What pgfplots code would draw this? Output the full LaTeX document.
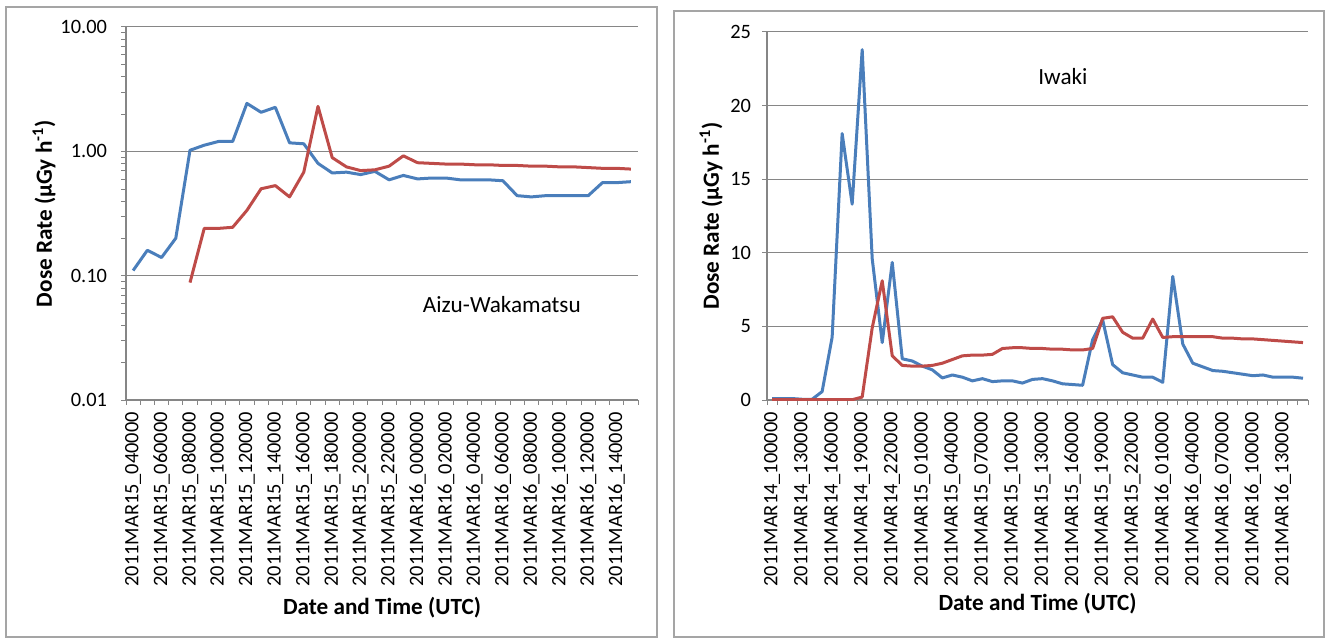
\documentclass[border=0pt]{standalone}
\usepackage{fontspec}
\setmainfont{Carlito}
\usepackage{pgfplots}
\pgfplotsset{compat=1.18}
\definecolor{sblue}{RGB}{74,126,187}
\definecolor{sred}{RGB}{190,75,72}
\definecolor{gridc}{RGB}{134,134,134}
\definecolor{framec}{RGB}{165,165,165}

% Excel-like look shared by both panels
\pgfplotsset{excel/.style={
    scale only axis,
    axis x line=bottom, axis y line=left,
    axis line style={-, draw=gridc, line width=0.6pt},
    ymajorgrids=true,
    grid style={draw=gridc, line width=0.5pt},
    tick align=outside,
    major tick length=2.5pt, minor tick length=2.5pt,
    major x tick style={draw=none},
    minor x tick style={draw=gridc, line width=0.5pt},
    major y tick style={draw=gridc, line width=0.5pt},
    xtick pos=bottom, ytick pos=left,
    ticklabel style={font=\fontsize{10.2}{12}\selectfont},
    xticklabel style={rotate=90, anchor=east},
    /pgf/number format/assume math mode=true,
    every axis y label/.style={rotate=90, anchor=center,
        font=\fontsize{11.6}{13}\selectfont\bfseries},
    every axis x label/.style={anchor=center,
        font=\fontsize{11.6}{13}\selectfont\bfseries},
    every axis plot/.append style={line width=1.5pt, no markers, line join=round},
}}

\begin{document}
\begin{tikzpicture}
\path[use as bounding box] (0,0) rectangle (662.5pt,321pt);
\draw[framec, line width=0.8pt] (3pt,2.5pt) rectangle (328.5pt,317.5pt);
\draw[framec, line width=0.8pt] (337pt,2.5pt) rectangle (662pt,315.5pt);

% Aizu-Wakamatsu
\begin{axis}[excel,
    at={(63pt,121pt)}, anchor=south west,
    width=256pt, height=186.5pt,
    ymode=log, ymin=0.01, ymax=10,
    ytick={0.01,0.1,1,10},
    yticklabels={0.01,0.10,1.00,10.00},
    yticklabel style={xshift=-3.5pt},
    xmin=-0.5, xmax=35.5,
    xtick={0,2,...,34},
    minor xtick={-0.5,0.5,...,35.5},
    xticklabels={2011MAR15\_040000,2011MAR15\_060000,2011MAR15\_080000,2011MAR15\_100000,
        2011MAR15\_120000,2011MAR15\_140000,2011MAR15\_160000,2011MAR15\_180000,
        2011MAR15\_200000,2011MAR15\_220000,2011MAR16\_000000,2011MAR16\_020000,
        2011MAR16\_040000,2011MAR16\_060000,2011MAR16\_080000,2011MAR16\_100000,
        2011MAR16\_120000,2011MAR16\_140000},
    ylabel={Dose Rate (µGy h\textsuperscript{-1})},
    xlabel={Date and Time (UTC)},
    ylabel style={at={(axis description cs:-0.16,0.5)}},
    xlabel style={at={(axis description cs:0.5,-0.558)}},
]
\addplot[sblue] coordinates {
(0,0.11)(1,0.16)(2,0.14)(3,0.20)(4,1.02)(5,1.12)(6,1.20)(7,1.20)(8,2.43)(9,2.06)
(10,2.26)(11,1.17)(12,1.15)(13,0.80)(14,0.67)(15,0.68)(16,0.65)(17,0.69)(18,0.59)
(19,0.64)(20,0.60)(21,0.61)(22,0.61)(23,0.59)(24,0.59)(25,0.59)(26,0.58)(27,0.44)
(28,0.43)(29,0.44)(30,0.44)(31,0.44)(32,0.44)(33,0.56)(34,0.56)(35,0.57)};
\addplot[sred] coordinates {
(4,0.088)(5,0.24)(6,0.24)(7,0.245)(8,0.335)(9,0.50)(10,0.53)(11,0.43)(12,0.68)
(13,2.3)(14,0.89)(15,0.75)(16,0.70)(17,0.71)(18,0.76)(19,0.92)(20,0.81)(21,0.80)
(22,0.79)(23,0.79)(24,0.78)(25,0.78)(26,0.77)(27,0.77)(28,0.76)(29,0.76)(30,0.75)
(31,0.75)(32,0.74)(33,0.73)(34,0.73)(35,0.72)};
\node[font=\fontsize{11.6}{13}\selectfont] at (axis description cs:0.734,0.257) {Aizu-Wakamatsu};
\end{axis}

% Iwaki
\begin{axis}[excel,
    at={(383.5pt,121pt)}, anchor=south west,
    width=270.5pt, height=184pt,
    ymin=0, ymax=25,
    ytick={0,5,...,25},
    yticklabel style={xshift=-2pt},
    xmin=-0.5, xmax=53.5,
    xtick={0,3,...,51},
    minor xtick={-0.5,0.5,...,53.5},
    xticklabels={2011MAR14\_100000,2011MAR14\_130000,2011MAR14\_160000,2011MAR14\_190000,
        2011MAR14\_220000,2011MAR15\_010000,2011MAR15\_040000,2011MAR15\_070000,
        2011MAR15\_100000,2011MAR15\_130000,2011MAR15\_160000,2011MAR15\_190000,
        2011MAR15\_220000,2011MAR16\_010000,2011MAR16\_040000,2011MAR16\_070000,
        2011MAR16\_100000,2011MAR16\_130000},
    ylabel={Dose Rate (µGy h\textsuperscript{-1})},
    xlabel={Date and Time (UTC)},
    ylabel style={at={(axis description cs:-0.1035,0.5)}},
    xlabel style={at={(axis description cs:0.5,-0.554)}},
]
\addplot[sblue] coordinates {
(0,0.10)(1,0.10)(2,0.10)(3,0.05)(4,0.05)(5,0.57)(6,4.26)(7,18.1)(8,13.3)(9,23.8)
(10,9.6)(11,3.9)(12,9.35)(13,2.8)(14,2.65)(15,2.3)(16,2.05)(17,1.5)(18,1.7)(19,1.55)
(20,1.3)(21,1.45)(22,1.25)(23,1.3)(24,1.3)(25,1.15)(26,1.4)(27,1.45)(28,1.3)(29,1.1)
(30,1.05)(31,1.0)(32,4.1)(33,5.45)(34,2.4)(35,1.85)(36,1.7)(37,1.55)(38,1.55)(39,1.2)
(40,8.4)(41,3.8)(42,2.5)(43,2.25)(44,2.0)(45,1.95)(46,1.85)(47,1.75)(48,1.65)(49,1.7)
(50,1.55)(51,1.55)(52,1.55)(53,1.48)};
\addplot[sred] coordinates {
(0,0.02)(1,0.02)(2,0.02)(3,0.02)(4,0.02)(5,0.02)(6,0.02)(7,0.02)(8,0.02)(9,0.2)
(10,4.9)(11,8.1)(12,3.0)(13,2.35)(14,2.3)(15,2.3)(16,2.35)(17,2.5)(18,2.75)(19,3.0)
(20,3.05)(21,3.05)(22,3.1)(23,3.5)(24,3.55)(25,3.55)(26,3.5)(27,3.5)(28,3.45)(29,3.45)
(30,3.4)(31,3.4)(32,3.5)(33,5.55)(34,5.65)(35,4.6)(36,4.2)(37,4.2)(38,5.5)(39,4.25)
(40,4.3)(41,4.3)(42,4.3)(43,4.3)(44,4.3)(45,4.2)(46,4.2)(47,4.15)(48,4.15)(49,4.1)
(50,4.05)(51,4.0)(52,3.95)(53,3.9)};
\node[font=\fontsize{11.6}{13}\selectfont] at (axis description cs:0.547,0.878) {Iwaki};
\end{axis}
\end{tikzpicture}
\end{document}
